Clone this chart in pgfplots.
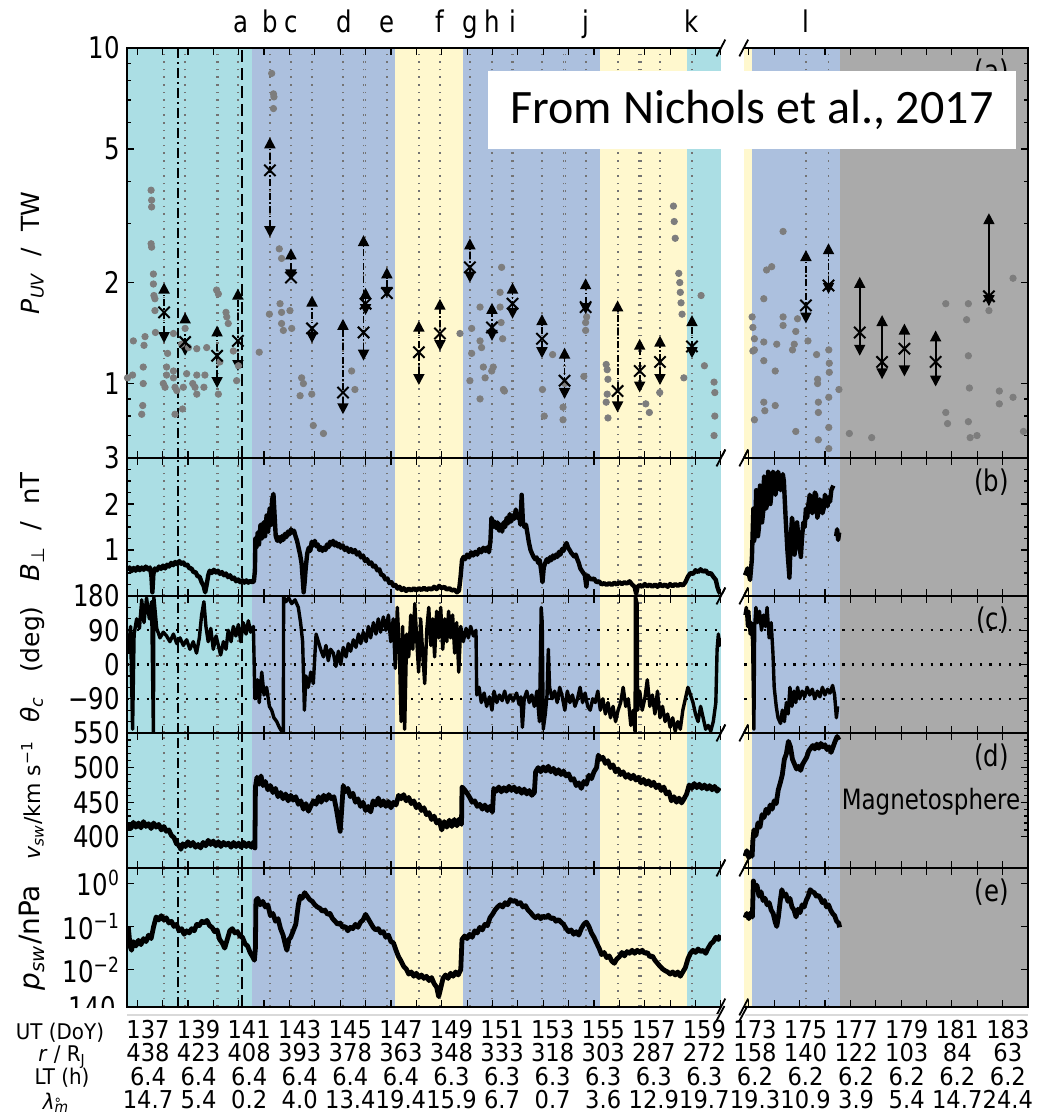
\documentclass[border=0pt]{standalone}
\usepackage{pgfplots}
\pgfplotsset{compat=1.18}
\usetikzlibrary{arrows.meta,calc}
\usepackage{fontspec}
\setmainfont{DejaVu Sans}[FakeStretch=0.82]
\newfontfamily\labfont{DejaVu Sans}
\newfontfamily\tabfont{DejaVu Sans}[FakeStretch=0.92]
\newfontfamily\notefont{Carlito}

\definecolor{cyanbg}{RGB}{171,222,228}
\definecolor{bluebg}{RGB}{172,192,222}
\definecolor{yellowbg}{RGB}{255,248,206}
\definecolor{greybg}{RGB}{170,170,170}
\definecolor{dotgrey}{RGB}{125,125,125}
\definecolor{vlgrey}{RGB}{115,115,115}

\newcommand{\tfont}{\fontsize{14.9}{16}\selectfont}
\newcommand{\tabf}{\tabfont\fontsize{12.3}{13}\selectfont}

% white gap and slashes of the broken time axis
\newcommand{\breakmarks}{%
  \coordinate (gL) at (axis cs:160,1);
  \coordinate (gR) at (axis cs:160.9,1);
  \coordinate (rb) at (rel axis cs:0,0);
  \coordinate (rt) at (rel axis cs:0,1);
  \fill[white] ($(gL|-rb)+(0.2pt,-1pt)$) rectangle ($(gR|-rt)+(-0.2pt,1pt)$);
  \foreach \p in {gL,gR}{\foreach \q in {rb,rt}{%
    \draw[line width=0.9pt] ($(\p|-\q)+(-2.2pt,-4.2pt)$) -- ($(\p|-\q)+(2.2pt,4.2pt)$);}}%
}

% shaded intervals, HST observation times, events
\newcommand{\backdrop}[2]{%
  \addplot[fill=cyanbg,draw=none,forget plot] coordinates {(136.6,#1)(141.53,#1)(141.53,#2)(136.6,#2)};
  \addplot[fill=bluebg,draw=none,forget plot] coordinates {(141.53,#1)(147.16,#1)(147.16,#2)(141.53,#2)};
  \addplot[fill=yellowbg,draw=none,forget plot] coordinates {(147.16,#1)(149.84,#1)(149.84,#2)(147.16,#2)};
  \addplot[fill=bluebg,draw=none,forget plot] coordinates {(149.84,#1)(155.24,#1)(155.24,#2)(149.84,#2)};
  \addplot[fill=yellowbg,draw=none,forget plot] coordinates {(155.24,#1)(158.66,#1)(158.66,#2)(155.24,#2)};
  \addplot[fill=cyanbg,draw=none,forget plot] coordinates {(158.66,#1)(160,#1)(160,#2)(158.66,#2)};
  \addplot[fill=yellowbg,draw=none,forget plot,seg2] coordinates {(172.8,#1)(173.13,#1)(173.13,#2)(172.8,#2)};
  \addplot[fill=bluebg,draw=none,forget plot,seg2] coordinates {(173.13,#1)(176.59,#1)(176.59,#2)(173.13,#2)};
  \addplot[fill=greybg,draw=none,forget plot,seg2] coordinates {(176.59,#1)(184,#1)(184,#2)(176.59,#2)};
  \pgfplotsinvokeforeach{138.06,138.89,140.13,140.18,140.97,142.23,143.06,143.89,145.11,145.92,146.0,146.84,148.1,148.93,150.11,150.98,151.77,151.82,152.95,153.8,153.88,154.67,155.93,156.77,156.84,157.6,158.86}{%
    \addplot[vline] coordinates {(##1,#1)(##1,#2)};}
  \pgfplotsinvokeforeach{175.25,176.14}{%
    \addplot[vline,seg2] coordinates {(##1,#1)(##1,#2)};}
  \addplot[ddline] coordinates {(138.62,#1)(138.62,#2)};
  \addplot[dshline] coordinates {(141.13,#1)(141.13,#2)};
}

\newcommand{\uv}[4][]{\addplot[uvarrow,#1] coordinates {(#2,#3)(#2,#4)};}

\pgfplotsset{
  seg2/.style={x filter/.expression={x-11.9}},
  vline/.style={vlgrey,line width=0.9pt,dash pattern=on 0.8pt off 3pt,forget plot},
  ddline/.style={black,line width=1pt,dash pattern=on 5pt off 2pt on 1pt off 2pt,forget plot},
  dshline/.style={black,line width=1pt,dash pattern=on 6pt off 3pt,forget plot},
  hdot/.style={black,line width=1.1pt,dash pattern=on 1.1pt off 3.8pt,forget plot},
  series/.style={black,line width=2.2pt,line join=round,forget plot},
  dots/.style={only marks,mark=*,mark size=1.6pt,color=dotgrey,mark options={fill=dotgrey,draw=dotgrey},forget plot},
  xmk/.style={only marks,mark=x,mark size=4pt,black,mark options={line width=1pt},forget plot},
  uvarrow/.style={black,line width=0.9pt,dash pattern=on 3.5pt off 1.2pt on 0.8pt off 1.2pt,
    arrows={Triangle[length=5.5pt,width=5.5pt]-Triangle[length=5.5pt,width=5.5pt]},forget plot},
  panel/.style={
    scale only axis, width=450.5pt, xmin=136.6, xmax=172.1, anchor=north west,
    axis on top,
    xtick={137,138,139,140,141,142,143,144,145,146,147,148,149,150,151,152,153,154,155,156,157,158,159,160,161.1,162.1,163.1,164.1,165.1,166.1,167.1,168.1,169.1,170.1,171.1,172.1},
    xticklabels={}, minor x tick num=3,
    tick align=inside, major tick length=3.5pt, minor tick length=2pt,
    every tick/.style={black,line width=0.6pt},
    axis line style={line width=0.9pt},
    tick label style={font=\tfont},
    every axis y label/.style={at={(axis description cs:-0.105,0.5)},anchor=center,rotate=90,
      font=\labfont\fontsize{13}{15}\selectfont},
    after end axis/.append code={\breakmarks},
  },
}

\begin{document}
\begin{tikzpicture}
\useasboundingbox (0,0) rectangle (519pt,-558.5pt);

% ---------------- (a) auroral power
\begin{axis}[panel, at={(63.5pt,-24pt)}, height=205pt,
  ymode=log, ymin=0.6, ymax=10, ytick={1,2,5,10}, yticklabels={1,2,5,10},
  minor ytick={0.6,0.7,0.8,0.9,3,4,6,7,8,9},
  ylabel={\textit{P}\textsubscript{\textit{UV}}\ \ /\ \ TW},
  ylabel style={font=\labfont\fontsize{12.5}{14}\selectfont},
  after end axis/.append code={%
    \foreach \xx/\ll in {141.1/a,142.23/b,143.06/c,145.15/d,146.84/e,148.93/f,150.11/g,150.98/h,151.79/i,154.67/j,158.86/k,163.35/l}
      {\node[anchor=base,font=\tfont,inner sep=0pt] at ($(axis cs:\xx,10)+(0,7.5pt)$) {\ll};}
    \node[anchor=north east,font=\tfont] at ($(rel axis cs:1,1)+(-6pt,-2pt)$) {(a)};
  }]
\backdrop{0.6}{10}
\addplot[dots] coordinates {(136.62,1.04)(136.82,1.06)(136.85,1.34)(137.18,0.81)(137.22,0.86)(137.24,1.12)(137.24,1.0)(137.27,1.30)(137.31,1.38)(137.55,3.77)(137.57,3.52)(137.57,3.36)(137.55,2.61)(137.57,2.55)(137.64,2.12)(137.64,1.98)(137.66,1.83)(137.7,1.79)(137.7,1.65)(137.72,1.42)(138.03,1.0)(138.1,0.975)(138.16,1.12)(138.16,1.06)(138.2,1.23)(138.43,1.41)(138.43,1.09)(138.43,1.04)(138.49,0.975)(138.49,0.81)(138.56,0.953)(138.75,1.31)(138.79,0.84)(138.82,0.975)(138.89,1.46)(138.95,1.07)(139.02,1.28)(139.19,1.0)(139.28,0.975)(139.35,1.27)(139.35,1.06)(139.35,0.93)(139.63,0.975)(139.67,1.06)(139.74,1.28)(140.13,1.90)(140.2,1.85)(140.2,0.93)(140.26,1.16)(140.5,1.63)(140.53,1.58)(140.59,1.51)(140.79,1.25)(140.92,1.02)(140.99,1.13)(141.81,1.24)(142.21,1.61)(142.3,8.4)(142.37,7.3)(142.39,7.15)(142.37,6.6)(142.6,2.52)(142.69,2.36)(142.63,1.73)(142.69,1.63)(142.69,1.51)(142.76,1.44)(143.02,1.65)(143.09,1.46)(143.48,1.04)(143.55,1.0)(143.42,0.92)(143.88,0.93)(143.94,0.75)(144.34,0.71)(145.45,1.09)(145.58,0.96)(149.72,1.41)(150.11,1.02)(150.18,1.46)(150.18,1.23)(150.51,1.69)(150.51,1.34)(150.57,1.28)(150.64,1.12)(150.71,1.04)(150.51,0.90)(150.97,1.09)(151.03,1.12)(151.3,1.87)(151.36,2.22)(151.43,0.96)(151.3,1.69)(151.4,1.36)(151.34,1.52)(151.47,0.95)(152.97,0.96)(153.04,0.80)(153.37,1.22)(153.78,0.85)(153.78,0.78)(153.85,1.0)(154.6,1.05)(154.67,1.52)(154.67,1.44)(154.71,1.58)(155.48,1.14)(155.52,1.10)(155.55,1.03)(155.52,0.93)(155.48,0.88)(155.55,0.79)(157.04,0.87)(157.18,0.82)(157.59,0.94)(158.13,3.38)(158.16,3.04)(158.2,2.71)(158.34,2.13)(158.38,2.0)(158.4,1.87)(158.43,1.74)(158.47,1.61)(158.54,1.04)(159.22,1.83)(159.35,1.13)(159.73,1.01)(159.76,0.94)(159.76,0.80)(159.73,0.70)};
\addplot[dots,seg2] coordinates {(173.13,1.58)(173.16,1.47)(173.22,1.36)(173.22,1.26)(173.16,1.25)(173.22,0.78)(173.59,1.79)(173.59,1.33)(173.59,1.17)(173.59,0.88)(173.63,0.83)(173.7,2.18)(173.9,2.23)(174.04,1.09)(174.04,0.86)(174.1,1.31)(174.35,2.84)(174.35,1.58)(174.35,1.49)(174.72,1.26)(174.79,1.31)(174.85,1.43)(174.85,0.72)(174.92,1.56)(175.33,1.34)(175.67,1.22)(175.71,1.03)(175.71,1.0)(175.74,0.88)(175.74,0.82)(175.74,0.68)(176.15,1.26)(176.17,1.15)(176.17,1.08)(176.15,0.91)(176.15,0.74)(176.15,0.64)(176.55,0.96)(176.96,0.71)(177.84,0.69)(180.76,1.73)(180.76,0.82)(180.83,0.76)(181.58,1.55)(181.65,1.73)(181.65,1.21)(181.69,0.97)(181.65,0.77)(181.72,0.69)(181.99,0.70)(182.46,1.65)(182.87,0.95)(182.87,0.87)(183.41,2.06)(183.41,0.91)(183.82,0.72)};
\uv{138.06}{1.32}{2.0}
\uv{138.89}{1.21}{1.63}
\uv{140.15}{0.97}{1.49}
\uv{140.97}{1.09}{1.92}
\uv{142.23}{2.73}{5.42}
\uv{143.06}{2.03}{2.53}
\uv{143.89}{1.32}{1.83}
\uv{145.11}{0.81}{1.56}
\uv{145.92}{1.17}{2.77}
\uv{146.0}{1.6}{1.93}
\uv{146.84}{1.80}{2.22}
\uv{148.1}{0.99}{1.54}
\uv{148.93}{1.25}{1.79}
\uv{150.11}{2.0}{2.71}
\uv{150.98}{1.34}{1.74}
\uv{151.79}{1.56}{2.0}
\uv{152.95}{1.19}{1.61}
\uv{153.84}{0.90}{1.28}
\uv{154.67}{1.61}{2.06}
\uv{155.93}{0.82}{1.77}
\uv{156.8}{0.94}{1.36}
\uv{157.6}{0.99}{1.39}
\uv{158.86}{1.19}{1.6}
\uv[seg2]{175.25}{1.51}{2.5}
\uv[seg2]{176.14}{1.85}{2.62}
\uv[seg2,solid]{177.37}{1.21}{2.08}
\uv[seg2,solid]{178.25}{1.03}{1.6}
\uv[seg2,solid]{179.13}{1.05}{1.51}
\uv[seg2,solid]{180.36}{0.98}{1.44}
\uv[seg2,solid]{182.46}{1.7}{3.22}
\addplot[xmk] coordinates {(138.06,1.63)(138.89,1.33)(140.15,1.21)(140.97,1.34)(142.23,4.32)(143.06,2.07)(143.89,1.46)(145.11,0.94)(145.92,1.42)(146.0,1.73)(146.84,1.86)(148.1,1.24)(148.93,1.41)(150.11,2.22)(150.98,1.47)(151.79,1.73)(152.95,1.36)(153.84,1.02)(154.67,1.69)(155.93,0.95)(156.8,1.09)(157.6,1.16)(158.86,1.29)};
\addplot[xmk,seg2] coordinates {(175.25,1.71)(176.14,1.96)(177.37,1.42)(178.25,1.16)(179.13,1.27)(180.36,1.16)(182.46,1.82)};
\end{axis}

% ---------------- (b) B perp
\begin{axis}[panel, at={(63.5pt,-229pt)}, height=69pt,
  ymin=0, ymax=3, ytick={0,1,2,3}, yticklabels={,1,2,3}, minor y tick num=3,
  ylabel={\textit{B}\textsubscript{⊥}\ \ /\ \ nT},
  after end axis/.append code={\node[anchor=north east,font=\tfont] at ($(rel axis cs:1,1)+(-6pt,-2pt)$) {(b)};}]
\backdrop{0}{3}
\addplot[series] coordinates {(136.62,0.56)(136.7,0.62)(136.78,0.54)(136.86,0.61)(136.94,0.55)(137.02,0.63)(137.1,0.56)(137.18,0.62)(137.26,0.57)(137.34,0.64)(137.42,0.58)(137.5,0.62)(137.56,0.45)(137.6,0.08)(137.64,0.48)(137.7,0.6)(137.78,0.56)(137.86,0.64)(137.94,0.59)(138.02,0.66)(138.1,0.6)(138.18,0.68)(138.26,0.64)(138.34,0.72)(138.42,0.67)(138.5,0.74)(138.58,0.69)(138.66,0.76)(138.74,0.7)(138.82,0.73)(138.9,0.66)(138.98,0.68)(139.06,0.6)(139.14,0.6)(139.22,0.52)(139.3,0.52)(139.38,0.43)(139.46,0.42)(139.54,0.3)(139.62,0.22)(139.68,0.08)(139.74,0.25)(139.8,0.45)(139.86,0.55)(139.94,0.5)(140.02,0.57)(140.1,0.51)(140.18,0.55)(140.26,0.48)(140.34,0.52)(140.42,0.45)(140.5,0.49)(140.58,0.41)(140.66,0.45)(140.74,0.37)(140.82,0.4)(140.9,0.32)(140.98,0.36)(141.06,0.3)(141.14,0.34)(141.22,0.29)(141.3,0.34)(141.38,0.29)(141.46,0.33)(141.54,0.3)(141.6,0.32)(141.64,0.55)(141.66,1.25)(141.7,1.05)(141.75,1.38)(141.8,1.12)(141.86,1.55)(141.92,1.25)(141.98,1.6)(142.04,1.3)(142.1,1.75)(142.16,1.4)(142.22,1.9)(142.28,1.55)(142.32,2.1)(142.37,2.22)(142.42,1.7)(142.46,1.3)(142.52,1.2)(142.58,1.28)(142.64,1.18)(142.7,1.3)(142.76,1.22)(142.82,1.35)(142.88,1.28)(142.94,1.4)(143.0,1.34)(143.06,1.45)(143.12,1.38)(143.18,1.42)(143.24,1.3)(143.3,1.2)(143.36,1.05)(143.42,0.9)(143.48,0.7)(143.52,0.4)(143.56,0.08)(143.6,0.3)(143.64,0.6)(143.7,0.92)(143.76,1.05)(143.82,0.98)(143.88,1.18)(143.94,1.1)(144.0,1.2)(144.06,1.08)(144.12,1.12)(144.18,1.0)(144.24,1.06)(144.3,0.98)(144.36,1.05)(144.42,1.0)(144.48,1.12)(144.54,1.06)(144.6,1.18)(144.66,1.12)(144.72,1.2)(144.78,1.1)(144.84,1.16)(144.9,1.08)(144.96,1.13)(145.02,1.05)(145.1,1.1)(145.18,1.0)(145.26,1.05)(145.34,0.96)(145.42,1.02)(145.5,0.95)(145.58,1.0)(145.66,0.9)(145.74,0.95)(145.82,0.84)(145.9,0.88)(145.98,0.76)(146.06,0.8)(146.14,0.7)(146.22,0.73)(146.3,0.64)(146.38,0.66)(146.46,0.56)(146.54,0.58)(146.62,0.46)(146.7,0.45)(146.78,0.36)(146.86,0.38)(146.94,0.28)(147.02,0.3)(147.1,0.22)(147.18,0.24)(147.26,0.16)(147.34,0.2)(147.42,0.13)(147.5,0.17)(147.6,0.11)(147.7,0.16)(147.8,0.12)(147.9,0.17)(148.0,0.12)(148.1,0.17)(148.2,0.13)(148.3,0.18)(148.4,0.13)(148.5,0.17)(148.6,0.14)(148.7,0.2)(148.8,0.15)(148.9,0.22)(149.0,0.17)(149.1,0.2)(149.2,0.14)(149.3,0.17)(149.4,0.12)(149.5,0.14)(149.6,0.08)(149.68,0.12)(149.74,0.4)(149.8,0.78)(149.86,0.85)(149.92,0.8)(150.0,0.9)(150.08,0.84)(150.16,0.95)(150.24,0.88)(150.32,0.96)(150.4,0.9)(150.48,1.02)(150.56,0.95)(150.64,1.05)(150.72,0.98)(150.8,1.06)(150.86,0.95)(150.92,1.2)(150.96,1.7)(151.02,1.5)(151.08,1.62)(151.14,1.48)(151.2,1.6)(151.26,1.42)(151.32,1.55)(151.38,1.4)(151.44,1.6)(151.5,1.5)(151.56,1.7)(151.62,1.58)(151.68,1.78)(151.74,1.62)(151.8,1.75)(151.86,1.68)(151.92,1.88)(151.98,1.7)(152.04,1.78)(152.1,1.55)(152.15,2.2)(152.2,1.6)(152.26,1.5)(152.32,1.55)(152.38,1.35)(152.44,1.15)(152.5,1.0)(152.56,0.92)(152.62,0.85)(152.68,0.8)(152.74,0.84)(152.8,0.72)(152.86,0.78)(152.92,0.55)(152.97,0.3)(153.02,0.62)(153.08,0.72)(153.14,0.8)(153.2,0.74)(153.26,0.84)(153.32,0.78)(153.38,0.88)(153.44,0.82)(153.5,0.9)(153.56,0.85)(153.62,0.96)(153.68,0.9)(153.74,1.02)(153.8,0.98)(153.86,1.1)(153.92,1.15)(153.98,1.05)(154.04,1.0)(154.1,0.94)(154.16,0.9)(154.22,0.86)(154.28,0.9)(154.34,0.8)(154.4,0.72)(154.46,0.6)(154.52,0.55)(154.58,0.5)(154.64,0.45)(154.7,0.2)(154.74,0.45)(154.8,0.4)(154.9,0.36)(155.0,0.38)(155.1,0.3)(155.2,0.32)(155.3,0.25)(155.4,0.28)(155.5,0.24)(155.6,0.28)(155.7,0.24)(155.8,0.29)(155.9,0.25)(156.0,0.3)(156.1,0.26)(156.2,0.3)(156.3,0.27)(156.4,0.32)(156.5,0.25)(156.6,0.2)(156.66,0.05)(156.72,0.2)(156.8,0.24)(156.9,0.2)(157.0,0.26)(157.1,0.21)(157.2,0.25)(157.3,0.2)(157.4,0.25)(157.5,0.2)(157.6,0.26)(157.7,0.21)(157.8,0.25)(157.9,0.2)(158.0,0.26)(158.1,0.21)(158.2,0.26)(158.3,0.22)(158.4,0.26)(158.5,0.23)(158.6,0.3)(158.7,0.42)(158.8,0.5)(158.9,0.48)(159.0,0.56)(159.1,0.52)(159.2,0.58)(159.3,0.53)(159.4,0.56)(159.5,0.48)(159.6,0.5)(159.7,0.42)(159.8,0.35)(159.86,0.2)(159.92,0.1)(159.98,0.05)};
\addplot[series,seg2] coordinates {(172.85,0.45)(172.95,0.6)(173.05,0.35)(173.12,0.8)(173.18,1.9)(173.21,1.2)(173.25,1.4)(173.29,2.3)(173.32,2.1)(173.36,1.3)(173.4,1.5)(173.44,2.4)(173.48,2.2)(173.52,1.6)(173.56,1.8)(173.6,2.6)(173.64,2.5)(173.68,1.9)(173.72,2.0)(173.76,2.7)(173.8,2.55)(173.85,2.0)(173.9,2.3)(173.95,2.7)(174.0,2.65)(174.05,2.2)(174.1,2.4)(174.15,2.7)(174.2,2.6)(174.25,2.3)(174.3,2.45)(174.34,2.65)(174.38,2.5)(174.45,1.7)(174.52,1.0)(174.6,0.4)(174.65,1.2)(174.7,1.7)(174.75,1.5)(174.8,0.9)(174.85,1.1)(174.9,1.6)(174.95,1.3)(175.05,0.85)(175.1,1.3)(175.15,1.6)(175.2,1.5)(175.25,1.9)(175.3,1.7)(175.35,2.0)(175.4,2.2)(175.45,2.1)(175.5,1.8)(175.55,1.95)(175.6,2.25)(175.65,2.2)(175.7,1.7)(175.75,1.85)(175.8,2.1)(175.85,2.0)(175.9,1.8)(175.95,1.9)(176.0,2.2)(176.05,2.1)(176.1,1.95)(176.15,2.15)(176.2,2.05)(176.25,2.3)(176.33,2.4)};
\addplot[series,seg2] coordinates {(176.44,1.3)(176.48,1.45)(176.52,1.22)(176.56,1.38)};
\end{axis}

% ---------------- (c) clock angle
\begin{axis}[panel, at={(63.5pt,-298pt)}, height=68.5pt,
  ymin=-180, ymax=180, ytick={-180,-90,0,90,180}, yticklabels={,−90,0,90,180}, minor y tick num=2,
  ylabel={\textit{θ}\textsubscript{\textit{c}}\ \ \ (deg)},
  ylabel style={font=\labfont\fontsize{12.5}{14}\selectfont},
  after end axis/.append code={\node[anchor=north east,font=\tfont] at ($(rel axis cs:1,1)+(-6pt,-2pt)$) {(c)};}]
\backdrop{-180}{180}
\addplot[hdot] coordinates {(136.6,90)(172.1,90)};
\addplot[hdot] coordinates {(136.6,0)(172.1,0)};
\addplot[hdot] coordinates {(136.6,-90)(172.1,-90)};
\addplot[series,line width=1.7pt] coordinates {(136.65,30)(136.74,100)(136.82,-170)(136.88,80)(136.98,120)(137.09,95)(137.18,170)(137.27,110)(137.37,175)(137.48,120)(137.57,165)(137.64,-178)(137.66,176)(137.77,95)(137.9,70)(138.03,85)(138.16,75)(138.29,60)(138.43,80)(138.56,55)(138.69,70)(138.82,50)(138.95,65)(139.08,40)(139.21,60)(139.34,30)(139.45,70)(139.54,130)(139.63,165)(139.71,100)(139.8,60)(139.9,95)(140.0,40)(140.11,75)(140.2,50)(140.29,25)(140.4,60)(140.5,40)(140.59,90)(140.7,60)(140.79,100)(140.89,75)(140.99,105)(141.08,60)(141.18,110)(141.29,80)(141.38,115)(141.47,85)(141.58,100)(141.64,-90)(141.74,-40)(141.81,-100)(141.91,-20)(142.0,-80)(142.1,-60)(142.21,-110)(142.3,-120)(142.39,-140)(142.5,-150)(142.6,-165)(142.69,-175)(142.76,-180)(142.77,178)(142.86,165)(142.97,175)(143.09,160)(143.22,170)(143.35,150)(143.44,110)(143.52,60)(143.59,-120)(143.65,-30)(143.74,-60)(143.84,-20)(143.94,-50)(144.05,80)(144.14,60)(144.23,40)(144.34,20)(144.44,50)(144.53,10)(144.62,40)(144.73,30)(144.83,-5)(144.93,35)(145.02,0)(145.12,45)(145.23,20)(145.32,55)(145.41,35)(145.52,65)(145.62,45)(145.72,80)(145.81,55)(145.91,85)(146.02,60)(146.11,100)(146.2,70)(146.31,110)(146.41,80)(146.5,120)(146.59,85)(146.7,125)(146.8,90)(146.9,130)(146.99,60)(147.09,120)(147.17,-10)(147.25,150)(147.33,40)(147.4,-150)(147.46,100)(147.54,-170)(147.62,80)(147.7,20)(147.78,130)(147.86,40)(147.94,160)(148.02,60)(148.09,-20)(148.17,120)(148.25,30)(148.33,-50)(148.41,90)(148.49,150)(148.57,50)(148.65,120)(148.72,20)(148.8,140)(148.88,70)(148.96,150)(149.04,40)(149.12,120)(149.2,60)(149.27,140)(149.35,70)(149.43,130)(149.51,30)(149.59,110)(149.67,-20)(149.75,100)(149.85,60)(149.96,95)(150.05,70)(150.14,100)(150.25,75)(150.35,90)(150.38,-80)(150.47,-60)(150.56,-100)(150.67,-75)(150.77,-110)(150.88,-85)(150.98,-120)(151.06,-70)(151.17,-100)(151.27,-80)(151.38,-95)(151.48,-70)(151.59,-100)(151.69,-80)(151.82,-95)(151.95,-75)(152.05,-105)(152.12,-85)(152.18,-165)(152.25,-90)(152.35,-70)(152.45,-100)(152.55,-80)(152.65,-110)(152.75,-70)(152.85,-150)(152.92,150)(152.96,110)(153.0,-170)(153.08,-130)(153.15,-80)(153.2,40)(153.25,-60)(153.35,-90)(153.45,-70)(153.55,-100)(153.65,-60)(153.75,-85)(153.85,-120)(153.95,-70)(154.05,-100)(154.15,-80)(154.25,-110)(154.35,-90)(154.45,-60)(154.55,-100)(154.65,-75)(154.75,-110)(154.85,-120)(154.95,-90)(155.05,-100)(155.15,-70)(155.25,-120)(155.35,-90)(155.45,-130)(155.55,-100)(155.65,-140)(155.75,-110)(155.85,-150)(155.95,-120)(156.05,-100)(156.15,-60)(156.25,-110)(156.35,-90)(156.45,-160)(156.55,-120)(156.62,-180)(156.63,180)(156.7,160)(156.72,-120)(156.8,-70)(156.9,-120)(157.0,-90)(157.1,-40)(157.2,-110)(157.3,-80)(157.4,-130)(157.5,-70)(157.6,-140)(157.7,-110)(157.8,-150)(157.9,-130)(158.0,-165)(158.1,-140)(158.2,-175)(158.3,-150)(158.4,-170)(158.5,-120)(158.6,-90)(158.7,-60)(158.8,-80)(158.9,-100)(159.0,-130)(159.1,-150)(159.2,-110)(159.3,-140)(159.4,-170)(159.5,-160)(159.6,-175)(159.7,-150)(159.8,-100)(159.85,40)(159.9,80)(159.95,50)(160.0,70)};
\addplot[series,line width=1.7pt,seg2] coordinates {(172.85,130)(172.9,150)(172.95,100)(173.0,140)(173.05,80)(173.1,110)(173.15,60)(173.2,-170)(173.23,100)(173.28,150)(173.35,110)(173.42,140)(173.5,90)(173.58,130)(173.65,100)(173.72,150)(173.8,70)(173.88,110)(173.95,30)(174.0,-60)(174.08,-110)(174.15,-140)(174.25,-155)(174.32,-120)(174.4,-150)(174.48,-100)(174.55,-130)(174.62,-60)(174.7,-110)(174.78,-70)(174.85,-100)(174.92,-60)(175.0,-90)(175.1,-70)(175.2,-85)(175.3,-60)(175.4,-80)(175.5,-65)(175.6,-90)(175.7,-70)(175.8,-85)(175.9,-60)(176.0,-80)(176.1,-65)(176.2,-75)(176.3,-55)(176.38,-80)(176.45,-140)(176.5,-110)};
\end{axis}

% ---------------- (d) solar wind speed
\begin{axis}[panel, at={(63.5pt,-366.5pt)}, height=67.5pt,
  ymin=355, ymax=550, ytick={400,450,500,550}, yticklabels={400,450,500,550}, minor y tick num=4,
  ylabel={\textit{v}\textsubscript{\textit{sw}}/km s\textsuperscript{−1}},
  ylabel style={font=\labfont\fontsize{11}{13}\selectfont},
  after end axis/.append code={%
    \node[anchor=north east,font=\tfont] at ($(rel axis cs:1,1)+(-6pt,-2pt)$) {(d)};
    \node[font=\fontsize{14}{16}\selectfont] at ($(rel axis cs:0,0.5)+(402pt,-0.5pt)$) {Magnetosphere};}]
\backdrop{355}{550}
\addplot[series,line width=2.4pt] coordinates {(136.65,419)(136.75,412)(136.85,421)(136.95,414)(137.05,420)(137.15,413)(137.25,422)(137.35,415)(137.45,419)(137.55,412)(137.65,420)(137.75,414)(137.85,418)(137.95,410)(138.05,415)(138.15,408)(138.25,410)(138.35,402)(138.45,399)(138.55,390)(138.65,388)(138.72,382)(138.8,390)(138.9,386)(139.0,393)(139.1,387)(139.2,392)(139.3,385)(139.4,389)(139.5,384)(139.6,392)(139.7,387)(139.8,395)(139.9,389)(140.0,394)(140.1,387)(140.2,393)(140.3,386)(140.4,392)(140.5,388)(140.6,391)(140.7,385)(140.8,392)(140.9,386)(141.0,391)(141.1,385)(141.2,392)(141.3,386)(141.4,391)(141.5,385)(141.6,393)(141.64,384)(141.66,472)(141.72,486)(141.8,476)(141.88,488)(141.96,474)(142.05,480)(142.15,468)(142.25,474)(142.35,464)(142.45,470)(142.55,458)(142.65,464)(142.75,455)(142.85,462)(142.95,452)(143.05,460)(143.15,453)(143.25,458)(143.35,447)(143.45,452)(143.55,440)(143.65,448)(143.75,437)(143.85,445)(143.95,452)(144.05,447)(144.15,458)(144.25,450)(144.35,460)(144.45,453)(144.55,461)(144.65,455)(144.75,458)(144.85,440)(144.95,418)(145.0,408)(145.06,440)(145.12,474)(145.2,465)(145.3,470)(145.4,458)(145.5,463)(145.6,450)(145.7,455)(145.8,444)(145.9,450)(146.0,438)(146.1,444)(146.2,436)(146.3,452)(146.4,446)(146.5,456)(146.6,445)(146.7,452)(146.8,444)(146.9,451)(147.0,442)(147.1,450)(147.2,446)(147.3,460)(147.4,455)(147.5,461)(147.6,452)(147.7,457)(147.8,448)(147.9,452)(148.0,442)(148.1,447)(148.2,438)(148.3,442)(148.4,432)(148.5,435)(148.6,425)(148.7,430)(148.8,420)(148.9,424)(149.0,410)(149.1,422)(149.2,414)(149.3,424)(149.4,415)(149.5,425)(149.6,416)(149.7,426)(149.78,418)(149.8,472)(149.9,468)(150.0,463)(150.1,457)(150.2,450)(150.3,452)(150.4,444)(150.5,447)(150.6,440)(150.7,446)(150.8,438)(150.9,444)(151.0,436)(151.05,470)(151.15,466)(151.25,472)(151.35,465)(151.45,471)(151.55,466)(151.65,473)(151.75,467)(151.85,472)(151.95,465)(152.05,470)(152.15,463)(152.25,469)(152.35,462)(152.45,467)(152.55,460)(152.65,464)(152.7,494)(152.8,500)(152.9,494)(153.0,501)(153.1,495)(153.2,502)(153.3,494)(153.4,499)(153.5,491)(153.6,497)(153.7,490)(153.8,495)(153.9,488)(154.0,491)(154.1,482)(154.2,484)(154.3,474)(154.4,478)(154.5,470)(154.6,480)(154.7,476)(154.8,489)(154.9,484)(155.0,494)(155.1,500)(155.17,518)(155.25,512)(155.35,515)(155.45,506)(155.55,510)(155.65,500)(155.75,504)(155.85,494)(155.95,498)(156.05,490)(156.15,494)(156.25,486)(156.35,490)(156.45,484)(156.55,489)(156.65,482)(156.75,486)(156.85,478)(156.95,483)(157.05,476)(157.15,481)(157.25,474)(157.35,479)(157.45,471)(157.55,475)(157.65,467)(157.75,472)(157.85,462)(157.95,465)(158.05,452)(158.15,458)(158.25,450)(158.35,456)(158.45,449)(158.55,455)(158.65,462)(158.75,475)(158.85,470)(158.95,477)(159.05,471)(159.15,476)(159.25,470)(159.35,475)(159.45,469)(159.55,474)(159.65,468)(159.75,473)(159.85,466)(159.95,471)};
\addplot[series,line width=2.4pt,seg2] coordinates {(172.85,372)(172.92,380)(173.0,370)(173.08,378)(173.13,372)(173.16,395)(173.2,410)(173.28,402)(173.36,420)(173.44,414)(173.52,432)(173.6,428)(173.68,440)(173.76,434)(173.84,446)(173.92,440)(174.0,452)(174.08,448)(174.16,468)(174.24,478)(174.32,490)(174.4,512)(174.48,520)(174.56,538)(174.64,530)(174.72,512)(174.8,505)(174.88,498)(174.96,502)(175.04,496)(175.12,505)(175.2,510)(175.28,515)(175.36,524)(175.44,528)(175.52,532)(175.6,527)(175.68,534)(175.76,528)(175.84,535)(175.92,530)(176.0,533)(176.08,526)(176.16,530)(176.24,522)(176.32,530)(176.4,538)(176.48,545)(176.55,540)};
\end{axis}

% ---------------- (e) dynamic pressure (log10 of p_sw in nPa)
\begin{axis}[panel, at={(63.5pt,-434pt)}, height=69.5pt,
  ymin=-2.86, ymax=0.35, ytick={-2,-1,0},
  yticklabels={10\textsuperscript{−2},10\textsuperscript{−1},10\textsuperscript{0}},
  ylabel={\textit{p}\textsubscript{\textit{sw}}/nPa},
  ylabel style={font=\labfont\fontsize{14}{16}\selectfont},
  after end axis/.append code={\node[anchor=north east,font=\tfont] at ($(rel axis cs:1,1)+(-6pt,-2pt)$) {(e)};}]
\backdrop{-2.86}{0.35}
\addplot[series,line width=2.4pt] coordinates {(136.65,-1.0)(136.72,-1.45)(136.78,-1.55)(136.85,-1.35)(136.95,-1.45)(137.05,-1.32)(137.15,-1.42)(137.25,-1.28)(137.35,-1.35)(137.45,-1.2)(137.55,-1.28)(137.65,-1.0)(137.75,-0.78)(137.85,-0.85)(137.95,-0.75)(138.05,-0.85)(138.15,-0.8)(138.25,-0.92)(138.35,-0.88)(138.45,-1.0)(138.55,-0.95)(138.65,-1.1)(138.75,-1.05)(138.85,-1.18)(138.95,-1.1)(139.05,-1.15)(139.15,-1.05)(139.25,-1.1)(139.35,-0.95)(139.45,-0.98)(139.55,-0.88)(139.65,-0.92)(139.75,-0.86)(139.85,-0.98)(139.95,-1.02)(140.05,-1.12)(140.15,-1.08)(140.25,-1.3)(140.35,-1.38)(140.45,-1.5)(140.55,-1.3)(140.65,-1.1)(140.75,-1.05)(140.85,-1.15)(140.95,-1.12)(141.05,-1.22)(141.15,-1.25)(141.25,-1.4)(141.35,-1.45)(141.45,-1.6)(141.55,-1.7)(141.62,-1.78)(141.66,-1.5)(141.68,-0.4)(141.75,-0.35)(141.85,-0.5)(141.95,-0.42)(142.05,-0.55)(142.15,-0.5)(142.25,-0.75)(142.35,-0.7)(142.45,-0.88)(142.55,-0.82)(142.65,-1.05)(142.75,-1.2)(142.85,-1.45)(142.9,-1.55)(142.98,-1.3)(143.05,-1.25)(143.15,-1.1)(143.25,-0.95)(143.35,-0.5)(143.42,-0.3)(143.5,-0.35)(143.6,-0.22)(143.7,-0.3)(143.8,-0.38)(143.9,-0.42)(144.0,-0.5)(144.1,-0.55)(144.2,-0.58)(144.3,-0.65)(144.4,-0.62)(144.5,-0.72)(144.6,-0.7)(144.7,-0.82)(144.8,-0.88)(144.9,-0.95)(145.0,-0.92)(145.1,-1.02)(145.2,-1.0)(145.3,-1.1)(145.4,-1.02)(145.5,-1.05)(145.6,-0.95)(145.7,-1.02)(145.8,-0.9)(145.9,-0.85)(146.0,-0.72)(146.1,-0.82)(146.2,-0.92)(146.3,-1.02)(146.4,-1.08)(146.5,-1.05)(146.6,-1.15)(146.7,-1.12)(146.8,-1.25)(146.9,-1.2)(147.0,-1.35)(147.1,-1.38)(147.2,-1.55)(147.3,-1.7)(147.4,-1.8)(147.5,-1.92)(147.6,-1.98)(147.7,-2.1)(147.8,-2.05)(147.9,-2.15)(148.0,-2.08)(148.1,-2.18)(148.2,-2.12)(148.3,-2.2)(148.4,-2.15)(148.5,-2.25)(148.6,-2.18)(148.7,-2.32)(148.8,-2.4)(148.88,-2.62)(148.95,-2.45)(149.05,-2.2)(149.15,-2.12)(149.25,-2.2)(149.35,-2.08)(149.45,-2.15)(149.55,-2.05)(149.65,-2.12)(149.75,-2.0)(149.8,-1.3)(149.9,-1.22)(150.0,-1.28)(150.1,-1.18)(150.2,-1.25)(150.3,-1.1)(150.4,-1.15)(150.5,-1.02)(150.6,-1.08)(150.7,-0.95)(150.8,-0.98)(150.9,-0.8)(151.0,-0.72)(151.1,-0.62)(151.2,-0.55)(151.3,-0.5)(151.4,-0.55)(151.5,-0.45)(151.6,-0.5)(151.7,-0.38)(151.8,-0.42)(151.9,-0.4)(152.0,-0.48)(152.1,-0.45)(152.2,-0.55)(152.3,-0.52)(152.4,-0.62)(152.5,-0.68)(152.6,-0.75)(152.7,-0.8)(152.8,-0.75)(152.9,-0.82)(153.0,-0.76)(153.1,-0.8)(153.2,-0.74)(153.3,-0.82)(153.4,-0.8)(153.5,-0.88)(153.6,-0.84)(153.7,-0.9)(153.8,-0.95)(153.9,-1.05)(154.0,-1.12)(154.1,-1.08)(154.2,-1.18)(154.3,-1.12)(154.4,-1.2)(154.5,-1.05)(154.6,-0.95)(154.7,-0.9)(154.8,-1.0)(154.9,-1.15)(155.0,-1.25)(155.1,-1.38)(155.2,-1.5)(155.3,-1.65)(155.4,-1.6)(155.5,-1.72)(155.6,-1.68)(155.7,-1.8)(155.8,-1.85)(155.9,-1.75)(156.0,-1.7)(156.1,-1.6)(156.2,-1.68)(156.3,-1.58)(156.4,-1.62)(156.5,-1.55)(156.6,-1.62)(156.7,-1.55)(156.8,-1.6)(156.9,-1.55)(157.0,-1.62)(157.1,-1.6)(157.2,-1.7)(157.3,-1.68)(157.4,-1.78)(157.5,-1.85)(157.6,-1.92)(157.7,-1.98)(157.8,-2.02)(157.9,-2.05)(158.0,-2.1)(158.1,-2.05)(158.2,-2.12)(158.3,-2.05)(158.4,-2.15)(158.5,-2.05)(158.6,-1.95)(158.7,-1.75)(158.8,-1.62)(158.9,-1.55)(159.0,-1.6)(159.1,-1.52)(159.2,-1.58)(159.3,-1.55)(159.4,-1.62)(159.5,-1.5)(159.6,-1.4)(159.7,-1.35)(159.8,-1.25)(159.9,-1.3)(159.98,-1.2)};
\addplot[series,line width=2.4pt,seg2] coordinates {(172.85,-0.8)(172.92,-0.7)(173.0,-0.82)(173.08,-0.68)(173.14,-0.78)(173.18,0.05)(173.25,-0.15)(173.32,-0.05)(173.4,-0.3)(173.48,-0.2)(173.56,-0.4)(173.64,-0.35)(173.72,-0.5)(173.8,-0.45)(173.88,-0.62)(173.96,-0.7)(174.04,-0.9)(174.1,-1.0)(174.16,-0.8)(174.24,-0.4)(174.3,-0.15)(174.38,-0.3)(174.46,-0.25)(174.54,-0.42)(174.62,-0.35)(174.7,-0.55)(174.78,-0.62)(174.86,-0.78)(174.94,-0.6)(175.02,-0.68)(175.1,-0.5)(175.18,-0.55)(175.26,-0.4)(175.34,-0.3)(175.42,-0.15)(175.5,-0.2)(175.58,-0.22)(175.66,-0.3)(175.74,-0.28)(175.82,-0.35)(175.9,-0.45)(175.98,-0.4)(176.06,-0.55)(176.14,-0.5)(176.22,-0.62)(176.3,-0.7)(176.38,-0.75)(176.46,-0.88)(176.54,-0.92)(176.58,-1.02)};
\end{axis}

% clipped remnant below the panels
\begin{scope}
\clip (20pt,-494pt) rectangle (62.5pt,-503.9pt);
\node[anchor=east,inner sep=0pt,font=\tfont] at (58pt,-504pt) {140};
\end{scope}
\draw[black!15,line width=0.7pt] (63.5pt,-507.5pt) -- (359pt,-507.5pt);
\draw[black!15,line width=0.7pt] (372.5pt,-507.5pt) -- (514pt,-507.5pt);
\draw[line width=0.9pt] (357.8pt,-511.2pt) -- (362.2pt,-503pt);
\draw[line width=0.9pt] (369.3pt,-511.2pt) -- (373.7pt,-503pt);

% orbit table
\foreach \ua/\ra/\la/\ma [count=\k from 0] in {137/438/6.4/14.7,139/423/6.4/5.4,141/408/6.4/0.2,143/393/6.4/4.0,145/378/6.4/13.4,147/363/6.4/19.4,149/348/6.3/15.9,151/333/6.3/6.7,153/318/6.3/0.7,155/303/6.3/3.6,157/287/6.3/12.9,159/272/6.3/19.7,173/158/6.2/19.3,175/140/6.2/10.9,177/122/6.2/3.9,179/103/6.2/5.4,181/84/6.2/14.7,183/63/6.2/24.4}{
  \node[anchor=base,inner sep=0pt,font=\tabf] at ({(74+25.29*\k)*1pt},-519.2pt) {\ua};
  \node[anchor=base,inner sep=0pt,font=\tabf] at ({(74+25.29*\k)*1pt},-530.9pt) {\ra};
  \node[anchor=base,inner sep=0pt,font=\tabf] at ({(74+25.29*\k)*1pt},-542.7pt) {\la};
  \node[anchor=base,inner sep=0pt,font=\tabf] at ({(74+25.29*\k)*1pt},-554.2pt) {\ma};
}
\begin{scope}[every node/.style={anchor=base,inner sep=0pt,font=\tabfont\fontsize{10.8}{11}\selectfont}]
\node at (30pt,-519.6pt) {UT (DoY)};
\node at (31pt,-530.9pt) {\textit{r} / R\textsubscript{J}};
\node at (31pt,-542.2pt) {LT (h)};
\node at (28pt,-554.8pt) {\textit{λ}\rlap{\raisebox{0.05em}{\fontsize{7}{8}\selectfont °}}\textsubscript{\textit{m}}};
\end{scope}

% overlay caption box
\node[fill=white,inner sep=0pt,minimum width=264pt,minimum height=39pt,
  font=\notefont\fontsize{24}{28}\selectfont] at (376pt,-55pt) {From Nichols et al., 2017};
\end{tikzpicture}
\end{document}
